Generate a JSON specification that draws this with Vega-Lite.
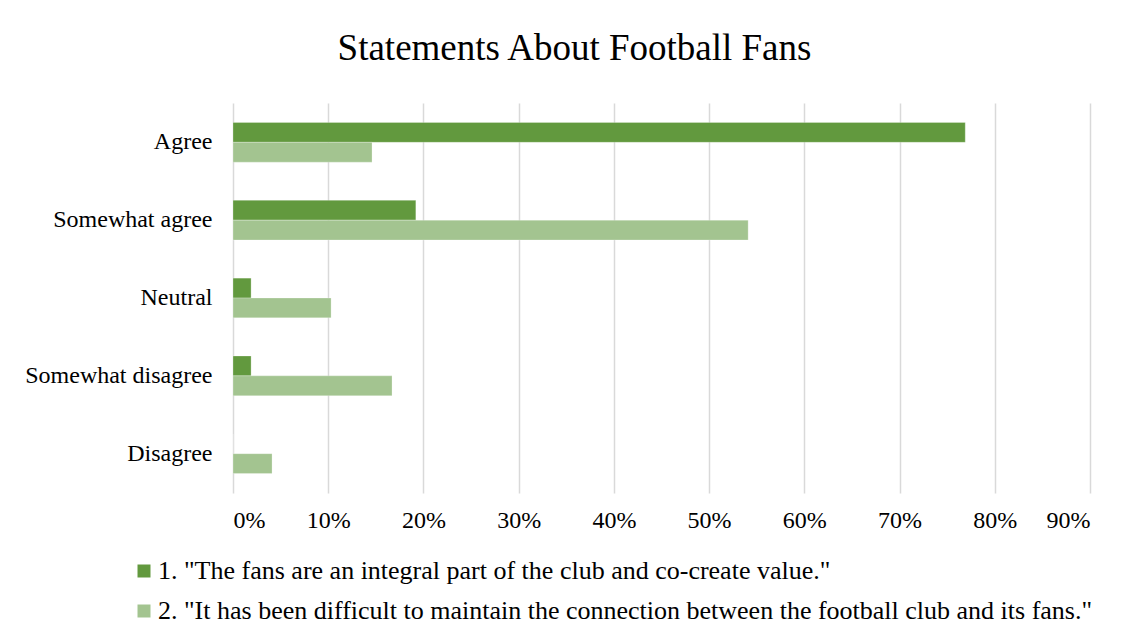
{
  "$schema": "https://vega.github.io/schema/vega-lite/v6.json",
  "autosize": "none",
  "width": 857,
  "height": 390,
  "padding": {"left": 233, "top": 103, "right": 43, "bottom": 150},
  "background": "#ffffff",
  "title": {
    "text": "Statements About Football Fans",
    "font": "Liberation Serif",
    "fontSize": 37,
    "fontWeight": "normal",
    "color": "#000000",
    "anchor": "middle",
    "dx": -87,
    "offset": 35
  },
  "data": {
    "values": [
      {"category": "Agree", "series": "1. \"The fans are an integral part of the club and co-create value.\"", "value": 0.769},
      {"category": "Agree", "series": "2. \"It has been difficult to maintain the connection between the football club and its fans.\"", "value": 0.146},
      {"category": "Somewhat agree", "series": "1. \"The fans are an integral part of the club and co-create value.\"", "value": 0.192},
      {"category": "Somewhat agree", "series": "2. \"It has been difficult to maintain the connection between the football club and its fans.\"", "value": 0.541},
      {"category": "Neutral", "series": "1. \"The fans are an integral part of the club and co-create value.\"", "value": 0.019},
      {"category": "Neutral", "series": "2. \"It has been difficult to maintain the connection between the football club and its fans.\"", "value": 0.103},
      {"category": "Somewhat disagree", "series": "1. \"The fans are an integral part of the club and co-create value.\"", "value": 0.019},
      {"category": "Somewhat disagree", "series": "2. \"It has been difficult to maintain the connection between the football club and its fans.\"", "value": 0.167},
      {"category": "Disagree", "series": "1. \"The fans are an integral part of the club and co-create value.\"", "value": 0.0},
      {"category": "Disagree", "series": "2. \"It has been difficult to maintain the connection between the football club and its fans.\"", "value": 0.041}
    ]
  },
  "mark": {"type": "bar", "stroke": "#ffffff", "strokeOpacity": 0.5, "strokeWidth": 0.5},
  "encoding": {
    "y": {
      "field": "category",
      "type": "nominal",
      "sort": ["Agree", "Somewhat agree", "Neutral", "Somewhat disagree", "Disagree"],
      "scale": {"paddingInner": 0.49, "paddingOuter": 0.25},
      "axis": {
        "title": null,
        "domain": false,
        "ticks": false,
        "labelFont": "Liberation Serif",
        "labelFontSize": 24,
        "labelColor": "#000000",
        "labelPadding": 21,
        "labelLimit": 300
      }
    },
    "yOffset": {
      "field": "series",
      "type": "nominal",
      "scale": {"paddingInner": 0, "paddingOuter": 0}
    },
    "x": {
      "field": "value",
      "type": "quantitative",
      "scale": {"domain": [0, 0.9], "nice": false},
      "axis": {
        "title": null,
        "format": ".0%",
        "values": [0, 0.1, 0.2, 0.3, 0.4, 0.5, 0.6, 0.7, 0.8, 0.9],
        "domain": false,
        "ticks": false,
        "grid": true,
        "gridColor": "#d9d9d9",
        "gridWidth": 1.5,
        "labelFont": "Liberation Serif",
        "labelFontSize": 24,
        "labelColor": "#000000",
        "labelPadding": 15
      }
    },
    "color": {
      "field": "series",
      "type": "nominal",
      "scale": {"range": ["#62993e", "#a3c490"]},
      "legend": {
        "title": null,
        "orient": "none",
        "legendX": -102,
        "legendY": 455,
        "padding": 0,
        "direction": "vertical",
        "symbolType": "square",
        "symbolSize": 169,
        "symbolStrokeWidth": 0,
        "labelFont": "Liberation Serif",
        "labelFontSize": 26,
        "labelColor": "#000000",
        "labelLimit": 1000,
        "rowPadding": 14,
        "labelOffset": 1
      }
    }
  },
  "config": {
    "view": {"stroke": null}
  }
}
